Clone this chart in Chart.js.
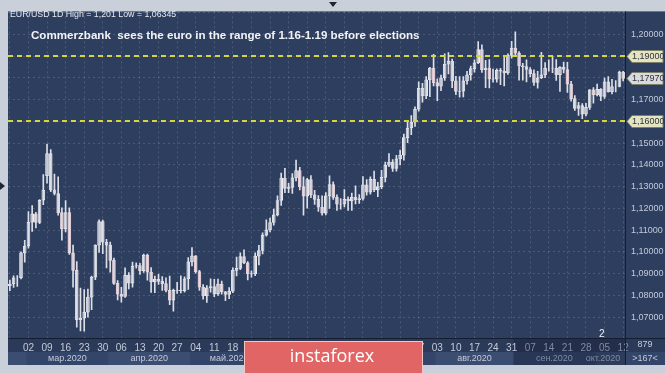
<!DOCTYPE html>
<html>
<head>
<meta charset="utf-8">
<script src="https://cdn.jsdelivr.net/npm/chart.js@4.4.0/dist/chart.umd.min.js"></script>
<style>
  html, body { margin: 0; padding: 0; background: #c9d0da; }
  #wrap { width: 665px; height: 373px; }
</style>
</head>
<body>
<div id="wrap"><canvas id="fxChart" width="665" height="373"></canvas></div>
<script>
// EUR/USD daily candles, 24 Feb 2020 .. 12 Oct 2020
const opens = [
  1.0845, 1.0852, 1.0881, 1.0881, 1.0995,
  1.1027, 1.1136, 1.1175, 1.1135, 1.1237, 1.1350, 1.1451, 1.1285, 1.1268, 1.1180,
  1.1105, 1.1180, 1.0995, 1.0915, 1.0688, 1.0695, 1.0723, 1.0792, 1.0884, 1.1031,
  1.1139, 1.1044, 1.1031, 1.0961, 1.0855, 1.0805, 1.0795, 1.0893, 1.0856, 1.0935,
  1.0937, 1.0913, 1.0985, 1.0907, 1.0862, 1.0874, 1.0864, 1.0854, 1.0823, 1.0778,
  1.0823, 1.0824, 1.0822, 1.0876, 1.0954, 1.0982, 1.0909, 1.0838, 1.0797, 1.0835,
  1.0840, 1.0807, 1.0852, 1.0816, 1.0804, 1.0819, 1.0915, 1.0924, 1.0978, 1.0950,
  1.0900, 1.0898, 1.0980, 1.1006, 1.1077, 1.1101, 1.1135, 1.1170, 1.1236, 1.1339,
  1.1292, 1.1296, 1.1340, 1.1374, 1.1300, 1.1256, 1.1332, 1.1262, 1.1241, 1.1205,
  1.1178, 1.1257, 1.1309, 1.1250, 1.1219, 1.1220, 1.1241, 1.1234, 1.1250, 1.1240,
  1.1245, 1.1308, 1.1274, 1.1333, 1.1285, 1.1300, 1.1342, 1.1398, 1.1412, 1.1383,
  1.1427, 1.1444, 1.1525, 1.1569, 1.1596, 1.1656, 1.1752, 1.1717, 1.1791, 1.1845,
  1.1778, 1.1761, 1.1799, 1.1862, 1.1876, 1.1786, 1.1737, 1.1738, 1.1786, 1.1814,
  1.1842, 1.1869, 1.1930, 1.1837, 1.1844, 1.1795, 1.1793, 1.1834, 1.1830, 1.1822,
  1.1903, 1.1936, 1.1913, 1.1855, 1.1851, 1.1838, 1.1819, 1.1779, 1.1800, 1.1813,
  1.1845, 1.1845, 1.1844, 1.1814, 1.1848, 1.1838, 1.1771, 1.1704, 1.1659, 1.1672,
  1.1633, 1.1664, 1.1745, 1.1722, 1.1747, 1.1714, 1.1781, 1.1736, 1.1760, 1.1760,
  1.1826
];
const highs = [
  1.0870, 1.0890, 1.0891, 1.1000, 1.1053,
  1.1185, 1.1213, 1.1182, 1.1240, 1.1355, 1.1495, 1.1470, 1.1357, 1.1345, 1.1202,
  1.1236, 1.1202, 1.1031, 1.0955, 1.0833, 1.0826, 1.0829, 1.0888, 1.1032, 1.1147,
  1.1146, 1.1057, 1.1045, 1.0971, 1.0868, 1.0837, 1.0927, 1.0905, 1.0953, 1.0950,
  1.0947, 1.0990, 1.0990, 1.0928, 1.0888, 1.0897, 1.0886, 1.0881, 1.0889, 1.0829,
  1.0860, 1.0890, 1.0885, 1.0974, 1.1019, 1.0983, 1.0915, 1.0850, 1.0845, 1.0876,
  1.0874, 1.0875, 1.0866, 1.0819, 1.0836, 1.0926, 1.0976, 1.0995, 1.1009, 1.0955,
  1.0913, 1.0995, 1.1030, 1.1087, 1.1147, 1.1155, 1.1197, 1.1257, 1.1362, 1.1384,
  1.1315, 1.1360, 1.1422, 1.1388, 1.1345, 1.1338, 1.1350, 1.1283, 1.1258, 1.1257,
  1.1272, 1.1349, 1.1322, 1.1262, 1.1245, 1.1286, 1.1253, 1.1270, 1.1303, 1.1263,
  1.1346, 1.1332, 1.1345, 1.1371, 1.1320, 1.1375, 1.1412, 1.1452, 1.1424, 1.1444,
  1.1468, 1.1541, 1.1601, 1.1626, 1.1666, 1.1781, 1.1774, 1.1806, 1.1848, 1.1908,
  1.1795, 1.1812, 1.1910, 1.1916, 1.1886, 1.1807, 1.1805, 1.1805, 1.1830, 1.1854,
  1.1882, 1.1966, 1.1951, 1.1880, 1.1883, 1.1840, 1.1841, 1.1843, 1.1902, 1.1910,
  1.1967, 1.2011, 1.1920, 1.1866, 1.1882, 1.1847, 1.1836, 1.1830, 1.1917, 1.1870,
  1.1882, 1.1900, 1.1883, 1.1851, 1.1872, 1.1871, 1.1784, 1.1718, 1.1687, 1.1681,
  1.1682, 1.1746, 1.1755, 1.1771, 1.1750, 1.1798, 1.1806, 1.1793, 1.1787, 1.1831,
  1.1829
];
const lows = [
  1.0822, 1.0836, 1.0841, 1.0876, 1.0952,
  1.1017, 1.1094, 1.1110, 1.1130, 1.1217, 1.1315, 1.1277, 1.1262, 1.1168, 1.1054,
  1.1092, 1.0988, 1.0838, 1.0654, 1.0636, 1.0635, 1.0700, 1.0734, 1.0872, 1.0997,
  1.0991, 1.0926, 1.0906, 1.0850, 1.0779, 1.0769, 1.0791, 1.0829, 1.0838, 1.0925,
  1.0896, 1.0905, 1.0870, 1.0813, 1.0812, 1.0850, 1.0823, 1.0816, 1.0757, 1.0727,
  1.0809, 1.0811, 1.0815, 1.0827, 1.0935, 1.0902, 1.0823, 1.0782, 1.0767, 1.0815,
  1.0794, 1.0800, 1.0806, 1.0775, 1.0785, 1.0812, 1.0889, 1.0918, 1.0946, 1.0871,
  1.0883, 1.0890, 1.0940, 1.0990, 1.1072, 1.1092, 1.1123, 1.1165, 1.1213, 1.1272,
  1.1272, 1.1268, 1.1326, 1.1285, 1.1168, 1.1201, 1.1249, 1.1218, 1.1186, 1.1168,
  1.1170, 1.1200, 1.1241, 1.1190, 1.1196, 1.1206, 1.1190, 1.1190, 1.1220, 1.1222,
  1.1237, 1.1260, 1.1265, 1.1276, 1.1254, 1.1290, 1.1321, 1.1391, 1.1370, 1.1371,
  1.1400, 1.1421, 1.1502, 1.1539, 1.1576, 1.1646, 1.1688, 1.1704, 1.1713, 1.1762,
  1.1695, 1.1741, 1.1788, 1.1818, 1.1754, 1.1722, 1.1711, 1.1712, 1.1771, 1.1789,
  1.1826, 1.1865, 1.1825, 1.1755, 1.1753, 1.1780, 1.1780, 1.1768, 1.1762, 1.1815,
  1.1890, 1.1902, 1.1789, 1.1789, 1.1781, 1.1805, 1.1765, 1.1752, 1.1796, 1.1800,
  1.1830, 1.1823, 1.1788, 1.1737, 1.1822, 1.1733, 1.1692, 1.1650, 1.1627, 1.1612,
  1.1625, 1.1654, 1.1683, 1.1716, 1.1695, 1.1705, 1.1734, 1.1726, 1.1735, 1.1758,
  1.1786
];
const closes = [
  1.0852, 1.0881, 1.0881, 1.0995, 1.1027,
  1.1136, 1.1175, 1.1135, 1.1237, 1.1284, 1.1451, 1.1285, 1.1268, 1.1180, 1.1105,
  1.1180, 1.0995, 1.0915, 1.0688, 1.0695, 1.0723, 1.0792, 1.0884, 1.1031, 1.1139,
  1.1044, 1.1031, 1.0961, 1.0855, 1.0805, 1.0795, 1.0893, 1.0856, 1.0935, 1.0937,
  1.0913, 1.0985, 1.0907, 1.0862, 1.0874, 1.0864, 1.0854, 1.0823, 1.0778, 1.0823,
  1.0824, 1.0822, 1.0876, 1.0954, 1.0982, 1.0909, 1.0838, 1.0797, 1.0835, 1.0840,
  1.0807, 1.0852, 1.0816, 1.0804, 1.0819, 1.0915, 1.0924, 1.0978, 1.0950, 1.0900,
  1.0898, 1.0980, 1.1006, 1.1077, 1.1101, 1.1135, 1.1170, 1.1236, 1.1339, 1.1292,
  1.1296, 1.1340, 1.1374, 1.1300, 1.1256, 1.1332, 1.1262, 1.1241, 1.1205, 1.1178,
  1.1257, 1.1309, 1.1250, 1.1219, 1.1220, 1.1241, 1.1234, 1.1250, 1.1240, 1.1245,
  1.1308, 1.1274, 1.1333, 1.1285, 1.1300, 1.1342, 1.1398, 1.1412, 1.1383, 1.1427,
  1.1444, 1.1525, 1.1569, 1.1596, 1.1656, 1.1752, 1.1717, 1.1791, 1.1845, 1.1778,
  1.1761, 1.1799, 1.1862, 1.1876, 1.1786, 1.1737, 1.1738, 1.1786, 1.1814, 1.1842,
  1.1869, 1.1930, 1.1837, 1.1844, 1.1795, 1.1793, 1.1834, 1.1830, 1.1822, 1.1903,
  1.1936, 1.1913, 1.1855, 1.1851, 1.1838, 1.1819, 1.1779, 1.1800, 1.1813, 1.1845,
  1.1845, 1.1844, 1.1814, 1.1848, 1.1838, 1.1771, 1.1704, 1.1659, 1.1672, 1.1633,
  1.1664, 1.1745, 1.1722, 1.1747, 1.1714, 1.1781, 1.1736, 1.1760, 1.1760, 1.1826,
  1.1797
];

const levelLines = [1.19, 1.16];
const lastPrice = 1.1797;
const hiddenTicks = [1.21, 1.19, 1.18, 1.16];
const monthNames = ['фев.2020', 'мар.2020', 'апр.2020', 'май.2020', 'июн.2020',
  'июл.2020', 'авг.2020', 'сен.2020', 'окт.2020'];

// trading days (weekdays) starting at Mon 24 Feb 2020
const days = [];
const cursor = new Date(2020, 1, 24);
while (days.length < closes.length) {
  if (cursor.getDay() !== 0 && cursor.getDay() !== 6) days.push(new Date(cursor));
  cursor.setDate(cursor.getDate() + 1);
}
const dayLabels = days.map(d => String(d.getDate()).padStart(2, '0'));
const isMonday = days.map(d => d.getDay() === 1);
const dimFrom = days.findIndex(d => d.getMonth() === 8 && d.getDate() >= 1);

const NAVY = '#2e3e5f';
const FONT = '"Liberation Sans", Arial, sans-serif';

function monthIndexes(m) {
  return days.map((d, i) => d.getMonth() === m ? i : -1).filter(i => i >= 0);
}

const chromePlugin = {
  id: 'chrome',
  beforeDraw(chart) {
    const { ctx, chartArea: area } = chart;
    const x = chart.scales.x;
    ctx.save();
    ctx.fillStyle = '#c9d0da';
    ctx.fillRect(0, 0, 665, 373);
    ctx.fillStyle = NAVY;
    ctx.fillRect(area.left, area.top, 665 - area.left, area.bottom - area.top);
    // date strip and month strip
    ctx.fillStyle = '#2b3a58';
    ctx.fillRect(area.left, area.bottom, 665 - area.left, 14);
    ctx.fillStyle = '#34456a';
    ctx.fillRect(area.left, area.bottom + 14, 665 - area.left, 13);
    // alternate month bands
    for (let m = 1; m < 10; m++) {
      const idx = monthIndexes(m);
      if (!idx.length || m % 2 === 0) continue;
      const x0 = x.getPixelForValue(idx[0]) - 1.8;
      const x1 = Math.min(x.getPixelForValue(idx[idx.length - 1]) + 1.8, area.right);
      ctx.fillStyle = '#3c4d72';
      ctx.fillRect(x0, area.bottom + 14, x1 - x0, 13);
    }
    // dimmed part (september onwards)
    const xd = x.getPixelForValue(dimFrom) - 1.8;
    ctx.fillStyle = 'rgba(20,28,48,0.35)';
    ctx.fillRect(xd, area.bottom, area.right - xd, 27);
    ctx.restore();
  },
  afterDatasetsDraw(chart) {
    const { ctx, chartArea: area } = chart;
    const y = chart.scales.y;
    ctx.save();
    ctx.strokeStyle = '#d6d63c';
    ctx.lineWidth = 2;
    ctx.setLineDash([5, 4]);
    levelLines.forEach(v => {
      const py = Math.round(y.getPixelForValue(v));
      ctx.beginPath();
      ctx.moveTo(area.left, py);
      ctx.lineTo(area.right, py);
      ctx.stroke();
    });
    ctx.setLineDash([]);
    // dividers
    ctx.strokeStyle = '#151d31';
    ctx.lineWidth = 1;
    ctx.beginPath();
    ctx.moveTo(area.right + 0.5, area.top);
    ctx.lineTo(area.right + 0.5, 365);
    ctx.moveTo(area.left, area.bottom + 0.5);
    ctx.lineTo(665, area.bottom + 0.5);
    ctx.stroke();
    // price tags
    const tag = (v, text, fill) => {
      const py = Math.round(y.getPixelForValue(v)) + 0.5;
      ctx.beginPath();
      ctx.moveTo(area.right + 2, py);
      ctx.lineTo(area.right + 7, py - 6);
      ctx.lineTo(663, py - 6);
      ctx.lineTo(663, py + 6);
      ctx.lineTo(area.right + 7, py + 6);
      ctx.closePath();
      ctx.fillStyle = fill;
      ctx.fill();
      ctx.strokeStyle = '#7d8068';
      ctx.stroke();
      ctx.fillStyle = '#30343c';
      ctx.font = '9px ' + FONT;
      ctx.textAlign = 'left';
      ctx.textBaseline = 'middle';
      ctx.fillText(text, area.right + 7, py + 0.5);
    };
    tag(1.19, '1,19000', '#e4e3c2');
    tag(lastPrice, lastPrice.toFixed(5).replace('.', ','), '#d9dadd');
    tag(1.16, '1,16000', '#e4e3c2');
    ctx.restore();
  },
  afterDraw(chart) {
    const { ctx, chartArea: area } = chart;
    const x = chart.scales.x;
    ctx.save();
    ctx.textBaseline = 'middle';
    ctx.fillStyle = '#e6e9f0';
    ctx.font = '8.8px ' + FONT;
    ctx.fillText('EUR/USD 1D High = 1,201 Low = 1,06345', 10, 15);
    ctx.font = 'bold 11.6px ' + FONT;
    ctx.fillStyle = '#f2f3f6';
    ctx.fillText('Commerzbank  sees the euro in the range of 1.16-1.19 before elections', 31, 36);
    ctx.font = '10px ' + FONT;
    ctx.fillText('2', 599, 334);
    // month labels
    ctx.font = '9px ' + FONT;
    ctx.textAlign = 'center';
    for (let m = 2; m < 10; m++) {
      const idx = monthIndexes(m);
      if (!idx.length) continue;
      const cx = (x.getPixelForValue(idx[0]) + x.getPixelForValue(idx[idx.length - 1])) / 2;
      ctx.fillStyle = m >= 8 ? '#7f8aa3' : '#c3cada';
      ctx.fillText(monthNames[m - 1], Math.min(cx, 603), area.bottom + 21);
    }
    ctx.fillStyle = '#c3cada';
    ctx.fillText('879', 645, area.bottom + 7);
    ctx.fillText('>167<', 645, area.bottom + 21);
    // logo
    ctx.fillStyle = '#e26565';
    ctx.fillRect(244, 341, 179, 32);
    ctx.strokeStyle = '#f4c6c6';
    ctx.lineWidth = 1;
    ctx.strokeRect(244.5, 341.5, 178, 33);
    ctx.fillStyle = '#ffffff';
    ctx.font = '18px "Open Sans", Lato, sans-serif';
    ctx.textAlign = 'center';
    ctx.fillText('instaforex', 332, 357);
    // markers
    ctx.fillStyle = '#1e2535';
    ctx.beginPath();
    ctx.moveTo(329, 2); ctx.lineTo(337, 2); ctx.lineTo(333, 7); ctx.closePath(); ctx.fill();
    ctx.beginPath();
    ctx.moveTo(0, 182); ctx.lineTo(5, 186); ctx.lineTo(0, 190); ctx.closePath(); ctx.fill();
    ctx.restore();
  }
};

const upDown = closes.map((c, i) => c >= opens[i]);

new Chart(document.getElementById('fxChart').getContext('2d'), {
  type: 'bar',
  data: {
    labels: dayLabels,
    datasets: [
      {
        label: 'wick',
        data: lows.map((l, i) => [l, highs[i]]),
        backgroundColor: '#dcdfe6',
        borderWidth: 0,
        barThickness: 1,
        grouped: false,
      },
      {
        label: 'body',
        data: opens.map((o, i) => [o, closes[i]]),
        backgroundColor: upDown.map(up => up ? NAVY : '#c98c9f'),
        borderColor: upDown.map(up => up ? '#eceef3' : '#e3d3da'),
        borderWidth: 1,
        borderSkipped: false,
        barThickness: 3,
        grouped: false,
      },
    ],
  },
  options: {
    responsive: false,
    animation: false,
    devicePixelRatio: 1,
    layout: { padding: { left: 8, top: 9, right: 0, bottom: 0 } },
    plugins: { legend: { display: false }, tooltip: { enabled: false } },
    scales: {
      x: {
        afterFit(scale) { scale.height = 35; },
        border: { display: false, dash: [2, 3] },
        grid: {
          offset: false,
          drawTicks: false,
          color: ctx => isMonday[ctx.index] ? 'rgba(255,255,255,0.15)' : 'rgba(0,0,0,0)',
        },
        ticks: {
          autoSkip: false,
          maxRotation: 0,
          minRotation: 0,
          padding: 4,
          font: { family: FONT, size: 10 },
          color: ctx => ctx.index >= dimFrom ? '#7f8aa3' : '#c3cada',
          callback(value, index) {
            return isMonday[index] && index > 0 ? dayLabels[index] : '';
          },
        },
      },
      y: {
        position: 'right',
        min: 1.0604,
        max: 1.2105,
        afterFit(scale) { scale.width = 40; },
        border: { display: false, dash: [2, 3] },
        grid: { drawTicks: false, color: 'rgba(255,255,255,0.15)' },
        ticks: {
          stepSize: 0.01,
          includeBounds: false,
          padding: 6,
          font: { family: FONT, size: 9 },
          color: '#c3cada',
          callback(value) {
            const k = Math.round(value * 100);
            if (hiddenTicks.some(h => Math.round(h * 100) === k)) return '';
            return value.toFixed(5).replace('.', ',');
          },
        },
      },
    },
  },
  plugins: [chromePlugin],
});
</script>
</body>
</html>
